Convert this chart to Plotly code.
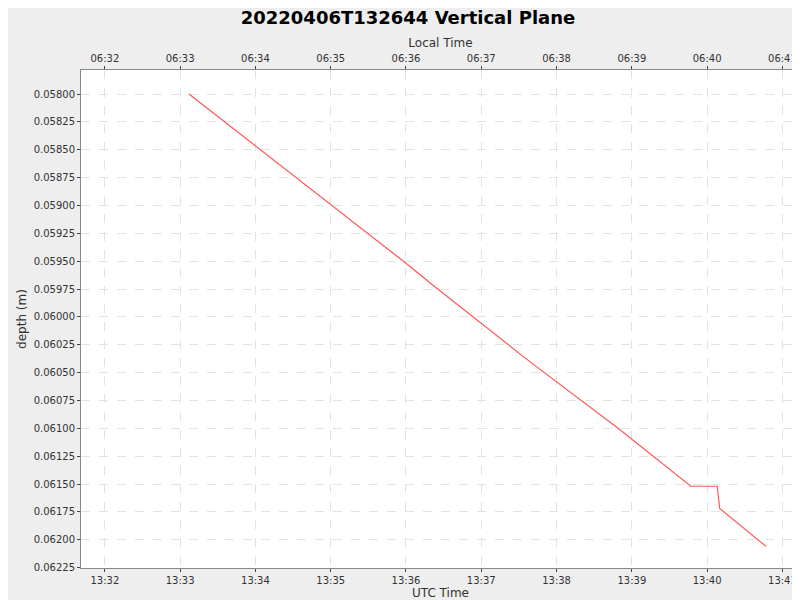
import plotly.graph_objects as go

times = ["13:33:07","13:34:30","13:35:59","13:36:23","13:37:13","13:37:35","13:38:49","13:39:47","13:40:08","13:40:10","13:40:47"]
depth = [0.05800,0.05873,0.05951,0.05973,0.06018,0.06037,0.06100,0.06152,0.06152,0.06172,0.06206]
x_utc = ["2022-04-06 " + t for t in times]

fig = go.Figure()
fig.add_trace(go.Scatter(x=x_utc, y=depth, mode="lines", line=dict(color="#ff5555", width=1.2), showlegend=False))
fig.add_trace(go.Scatter(x=["2022-04-06 06:33:07"], y=[0.058], xaxis="x2", mode="markers", marker=dict(opacity=0), showlegend=False, hoverinfo="skip"))

grid = dict(showgrid=True, gridcolor="#e2e2e2", griddash="dash", gridwidth=1)
fig.update_layout(
    width=800, height=600, paper_bgcolor="#eeeeee", plot_bgcolor="white",
    margin=dict(l=73, r=8, t=62, b=40, autoexpand=False),
    font=dict(family="DejaVu Sans", size=10, color="#333"),
    title=dict(text="<b>20220406T132644 Vertical Plane</b>", x=0.5, y=0.995, yanchor="top", font=dict(size=18, color="black")),
    xaxis=dict(range=["2022-04-06 13:31:41","2022-04-06 13:41:14"], dtick=60000, tickformat="%H:%M", automargin=False,
               title=dict(text="UTC Time", font=dict(size=12), standoff=2), ticks="outside", ticklen=3,
               showline=True, linecolor="#888", **grid),
    xaxis2=dict(range=["2022-04-06 06:31:41","2022-04-06 06:41:14"], dtick=60000, tickformat="%H:%M", automargin=False,
                overlaying="x", side="top", title=dict(text="Local Time", font=dict(size=12), standoff=2),
                ticks="outside", ticklen=3, showgrid=False, showline=True, linecolor="#888"),
    yaxis=dict(range=[0.062254, 0.057784], dtick=0.00025, tickformat=".5f", automargin=False,
               title=dict(text="depth (m)", font=dict(size=12), standoff=4), ticks="outside", ticklen=3,
               showline=True, linecolor="#888", mirror=True, **grid),
)
fig.write_html("out.html")
